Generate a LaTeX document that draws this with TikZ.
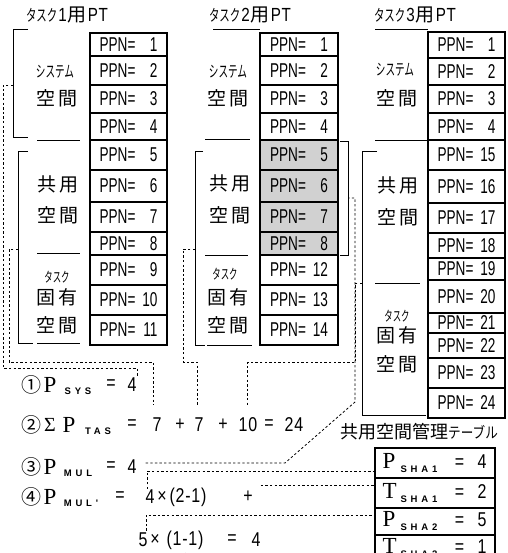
\documentclass[tikz,border=0pt]{standalone}
\usepackage{fontspec}
\usepackage{graphicx}
\usetikzlibrary{calc}
\setmainfont{Liberation Sans}
\newfontfamily\jpfnt{Noto Sans CJK JP}
\newfontfamily\ppnfnt[FakeStretch=0.68]{Liberation Sans}
\newfontfamily\frmfnt[FakeStretch=0.8,LetterSpace=4]{Liberation Sans}
\newfontfamily\serfnt{Liberation Serif}
\newfontfamily\subfnt[LetterSpace=40]{Liberation Sans Bold}
\newcommand{\fs}[1]{\fontsize{#1}{#1}\selectfont}
\newcommand{\ppnbox}[7]{%
  \node[cell,#7,minimum width={#3-#2},minimum height={#5-#4}] (#1) at ({(#2+#3)/2},{(#4+#5)/2}) {PPN=\hspace{2pt}\makebox[20pt][r]{#6}};}
\newcommand{\tabrow}[3]{\makebox[18pt][l]{\serfnt\fs{23}#1}\makebox[50pt][l]{\raisebox{-4pt}{\subfnt\fs{9.5}#2}}\makebox[18pt][c]{\frmfnt\fs{20}=}\makebox[18pt][r]{\frmfnt\fs{20}#3}}
\begin{document}
\begin{tikzpicture}[x=1pt,y=-1pt,
 cell/.style={draw,line width=1.3pt,inner sep=0pt,font=\ppnfnt\fs{20}},
 graycell/.style={fill=black!18},
 lbl/.style={inner sep=0pt,font=\jpfnt\fs{19}},
 ttl/.style={inner sep=0pt},
 brk/.style={line width=1pt},
 sepl/.style={line width=1pt},
 conn/.style={line width=0.8pt,dash pattern=on 2.4pt off 2.2pt},
 circ/.style={inner sep=0pt,font=\jpfnt\fs{20}},
 bigp/.style={inner sep=0pt,font=\serfnt\fs{23}},
 subs/.style={inner sep=0pt,font=\subfnt\fs{9.5}},
 frm/.style={inner sep=0pt,font=\frmfnt\fs{20}},
]
\useasboundingbox (0,0) rectangle (507,553);
\fill[white] (0,0) rectangle (507,553);

% titles
\node[ttl] (ttl1) at (67,15) {\jpfnt\fs{19}\scalebox{0.55}[0.85]{タスク}\hspace{1pt}\frmfnt\fs{19}1\hspace{1pt}\jpfnt\fs{19}用\hspace{1pt}\frmfnt\fs{19}PT};
\node[ttl] (ttl2) at (250,15) {\jpfnt\fs{19}\scalebox{0.55}[0.85]{タスク}\hspace{1pt}\frmfnt\fs{19}2\hspace{1pt}\jpfnt\fs{19}用\hspace{1pt}\frmfnt\fs{19}PT};
\node[ttl] (ttl3) at (415,15) {\jpfnt\fs{19}\scalebox{0.55}[0.85]{タスク}\hspace{1pt}\frmfnt\fs{19}3\hspace{1pt}\jpfnt\fs{19}用\hspace{1pt}\frmfnt\fs{19}PT};

% task 1 table
\ppnbox{a1}{90}{167}{33}{56}{1}{}
\ppnbox{a2}{90}{167}{56}{85}{2}{}
\ppnbox{a3}{90}{167}{85}{113}{3}{}
\ppnbox{a4}{90}{167}{113}{140}{4}{}
\ppnbox{a5}{90}{167}{140}{170}{5}{}
\ppnbox{a6}{90}{167}{170}{202}{6}{}
\ppnbox{a7}{90}{167}{202}{232}{7}{}
\ppnbox{a8}{90}{167}{232}{255}{8}{}
\ppnbox{a9}{90}{167}{255}{285}{9}{}
\ppnbox{a10}{90}{167}{285}{315}{10}{}
\ppnbox{a11}{90}{167}{315}{345}{11}{}
% task 2 table
\ppnbox{b1}{260}{338}{33}{56}{1}{}
\ppnbox{b2}{260}{338}{56}{85}{2}{}
\ppnbox{b3}{260}{338}{85}{113}{3}{}
\ppnbox{b4}{260}{338}{113}{140}{4}{}
\ppnbox{b5}{260}{338}{140}{170}{5}{graycell}
\ppnbox{b6}{260}{338}{170}{202}{6}{graycell}
\ppnbox{b7}{260}{338}{202}{232}{7}{graycell}
\ppnbox{b8}{260}{338}{232}{255}{8}{graycell}
\ppnbox{b9}{260}{338}{255}{285}{12}{}
\ppnbox{b10}{260}{338}{285}{315}{13}{}
\ppnbox{b11}{260}{338}{315}{345}{14}{}
% task 3 table
\ppnbox{c1}{428}{505}{32}{58}{1}{}
\ppnbox{c2}{428}{505}{58}{85}{2}{}
\ppnbox{c3}{428}{505}{85}{113}{3}{}
\ppnbox{c4}{428}{505}{113}{140}{4}{}
\ppnbox{c5}{428}{505}{140}{170}{15}{}
\ppnbox{c6}{428}{505}{170}{203}{16}{}
\ppnbox{c7}{428}{505}{203}{233}{17}{}
\ppnbox{c8}{428}{505}{233}{258}{18}{}
\ppnbox{c9}{428}{505}{258}{280}{19}{}
\ppnbox{c10}{428}{505}{280}{313}{20}{}
\ppnbox{c11}{428}{505}{313}{333}{21}{}
\ppnbox{c12}{428}{505}{333}{358}{22}{}
\ppnbox{c13}{428}{505}{358}{388}{23}{}
\ppnbox{c14}{428}{505}{388}{418}{24}{}

% labels task 1
\node[lbl] (l1a) at (55,72) {\scalebox{0.6}[1]{\fs{16}システム}};
\node[lbl] (l1b) at (57,98) {空\hspace{4pt}間};
\node[lbl] (l1c) at (58,184) {共\hspace{4pt}用};
\node[lbl] (l1d) at (58,215) {空\hspace{4pt}間};
\node[lbl] (l1e) at (57,277) {\scalebox{0.6}[1]{\fs{14}タスク}};
\node[lbl] (l1f) at (57,297) {固\hspace{4pt}有};
\node[lbl] (l1g) at (57,325) {空\hspace{4pt}間};
% labels task 2
\node[lbl] (l2a) at (228,72) {\scalebox{0.6}[1]{\fs{16}システム}};
\node[lbl] (l2b) at (228,98) {空\hspace{4pt}間};
\node[lbl] (l2c) at (230,183) {共\hspace{4pt}用};
\node[lbl] (l2d) at (230,215) {空\hspace{4pt}間};
\node[lbl] (l2e) at (225,274) {\scalebox{0.6}[1]{\fs{14}タスク}};
\node[lbl] (l2f) at (228,297) {固\hspace{4pt}有};
\node[lbl] (l2g) at (228,325) {空\hspace{4pt}間};
% labels task 3
\node[lbl] (l3a) at (395,70) {\scalebox{0.6}[1]{\fs{16}システム}};
\node[lbl] (l3b) at (397,98) {空\hspace{4pt}間};
\node[lbl] (l3c) at (398,185) {共\hspace{4pt}用};
\node[lbl] (l3d) at (398,217) {空\hspace{4pt}間};
\node[lbl] (l3e) at (397,316) {\scalebox{0.6}[1]{\fs{14}タスク}};
\node[lbl] (l3f) at (397,335) {固\hspace{4pt}有};
\node[lbl] (l3g) at (397,364) {空\hspace{4pt}間};

% separators
\draw[sepl] (37,141) -- (80,141);
\draw[sepl] (37,253) -- (80,253);
\draw[sepl] (37,343) -- (80,343);
\draw[sepl] (213,30) -- (260,30);
\draw[sepl] (205,140) -- (250,140);
\draw[sepl] (205,255) -- (248,255);
\draw[sepl] (207,345) -- (252,345);
\draw[sepl] (375,30) -- (428,30);
\draw[sepl] (375,141) -- (428,141);
\draw[sepl] (375,283) -- (420,283);

% brackets
\draw[brk] (28,30) -| (13,138) -- (28,138);
\coordinate (bsys) at (13,85);
\draw[brk] (28,152) -| (18,343) -- (33,343);
\coordinate (btas1) at (18,249);
\draw[brk] (203,152) -| (195,345) -- (205,345);
\coordinate (btas2) at (195,249);
\draw[brk] (340,142) -| (348,255) -- (340,255);
\coordinate (bmul) at (348,198);
\draw[brk] (377,152) -| (362,415) -- (426,415);
\coordinate (btas3) at (362,283);

% formulas
\node[circ] (f1c) at (31,385) {①};
\node[bigp] (f1p) at (50,385) {P};
\node[subs] (f1s) at (78,391) {SYS};
\node[frm] (f1e) at (111,385) {=};
\node[frm] (n1v) at (132,385) {4};

\node[circ] (f2c) at (31,425) {②};
\node[inner sep=0pt,font=\serfnt\fs{20}] (f2g) at (50,425) {Σ};
\node[bigp] (f2p) at (69,425) {P};
\node[subs] (f2s) at (98,431) {TAS};
\node[frm] (f2e) at (132,425) {=};
\node[frm] (n2a) at (157,425) {7};
\node[frm] (f2q) at (180,425) {+};
\node[frm] (n2b) at (199,425) {7};
\node[frm] (f2r) at (223,425) {+};
\node[frm] (n2c) at (248,425) {10};
\node[frm] (f2f) at (269,425) {=};
\node[frm] (n2d) at (294,425) {24};

\node[circ] (f3c) at (31,467) {③};
\node[bigp] (f3p) at (50,467) {P};
\node[subs] (f3s) at (78,473) {MUL};
\node[frm] (f3e) at (111,467) {=};
\node[frm] (n3v) at (132,467) {4};

\node[circ] (f4c) at (31,497) {④};
\node[bigp] (f4p) at (50,497) {P};
\node[subs] (f4s) at (81,503) {MUL'};
\node[frm] (f4e) at (120,497) {=};
\node[frm] (n4a) at (150,497) {4};
\node[frm] (f4x) at (162,497) {×};
\node[frm] (f4b) at (188,497) {(2-1)};
\node[frm] (f4q) at (248,497) {+};

\node[frm] (n5a) at (143,540) {5};
\node[frm] (f5x) at (155,540) {×};
\node[frm] (n5b) at (185,540) {(1-1)};
\node[frm] (f5e) at (232,540) {=};
\node[frm] (f5v) at (256,540) {4};

% shared space table
\node[anchor=west,inner sep=0pt] (tabttl) at (340,432) {\jpfnt\fs{18}共用空間管理\scalebox{0.7}[0.85]{テーブル}};
\node[cell,minimum width=120,minimum height=30] (tr1) at (435,463) {};
\node[cell,minimum width=120,minimum height=30] (tr2) at (435,493) {};
\node[cell,minimum width=120,minimum height=27] (tr3) at (435,521.5) {};
\node[cell,minimum width=120,minimum height=30] (tr4) at (435,550) {};
\node[anchor=west,inner sep=0pt] (tr1t) at ($(tr1.west)+(8,0)$) {\tabrow{P}{SHA1}{4}};
\node[anchor=west,inner sep=0pt] (tr2t) at ($(tr2.west)+(8,0)$) {\tabrow{T}{SHA1}{2}};
\node[anchor=west,inner sep=0pt] (tr3t) at ($(tr3.west)+(8,0)$) {\tabrow{P}{SHA2}{5}};
\node[anchor=west,inner sep=0pt] (tr4t) at ($(tr4.west)+(8,-2)$) {\tabrow{T}{SHA2}{1}};

% connectors
\draw[conn] (bsys) -- ++(-10,0) |- ($(n1v.north)+(5,-10)$) -- ($(n1v.north)+(5,-1)$);
\draw[conn] (btas1) -- ++(-9,0) |- ($(n2a.north)+(-4,-56)$) -- ($(n2a.north)+(-4,-13)$);
\draw[conn] (btas2) -- ++(-12,0) |- ($(n2b.north)+(-2,-56)$) -- ($(n2b.north)+(-2,-13)$);
\draw[conn] (btas3) -- ++(-7,0) |- ($(n2c.north)+(-1,-55)$) -- ($(n2c.north)+(-1,-11)$);
\draw[conn] ($(n3v.east)+(9,-4)$) -- (285,463) -- (355,402) -- (355,198) -- (bmul);
\draw[conn] ($(n4a.north)+(-3,-1)$) |- ($(tr1.west)+(0,8)$);
\draw[conn] ($(f4q.east)+(8,-12)$) -- ($(tr2.west)+(0,-8)$);
\draw[conn] ($(n5a.north)+(3,-2)$) |- ($(tr3.west)+(0,-6.5)$);
\draw[conn] ($(n5b.south)+(0,3)$) -- ++(0,12);
\end{tikzpicture}
\end{document}
